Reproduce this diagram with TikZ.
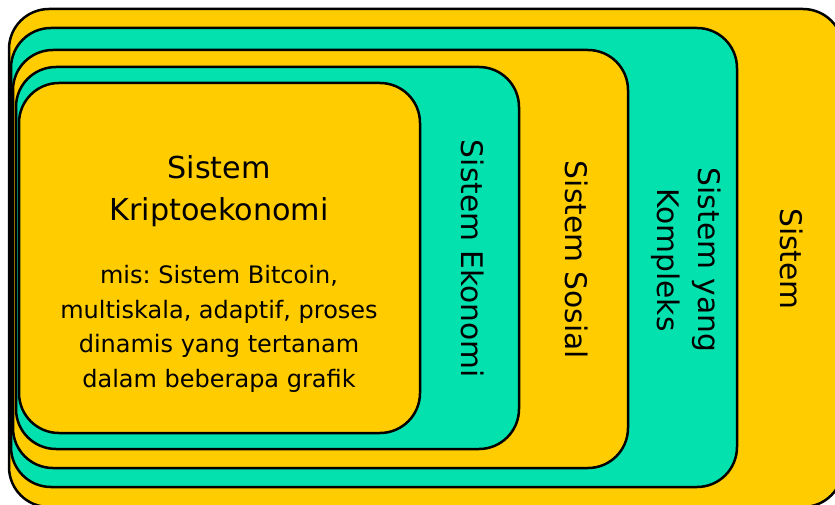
\documentclass[tikz,border=0pt]{standalone}
\usepackage{fontspec}
\setmainfont{DejaVu Sans}
\definecolor{sysyellow}{HTML}{FFCC00}
\definecolor{sysgreen}{HTML}{03E1AF}
\frenchspacing
\begin{document}
\begin{tikzpicture}
[x=1pt,y=-1pt,
  boxdecorate/.style={shape=rectangle,rounded corners=40pt,inner sep=0pt,draw,line width=2.5pt},%
  titledecorate/.style={align=center,font=\fontsize{30.2}{43}\selectfont},%
  bodydecorate/.style={align=center,font=\fontsize{24}{34.5}\selectfont},%
  sidedecorate/.style={align=center,rotate=-90,font=\fontsize{29.7}{41}\selectfont}]
%% page, cut at its edge
\useasboundingbox (0,0) rectangle (835,505);
\clip (0,0) rectangle (835,505);
%% nested systems, outermost first
\foreach \boxname/\x/\y/\w/\h/\col in {sistem/426/258/834/498/sysyellow,
  kompleks/374/257.5/726/459/sysgreen, sosial/320.5/259/615/418/sysyellow,
  ekonomi/267.5/258/503/382/sysgreen, kripto/219.5/258/401/350/sysyellow} {
  \node (\boxname) at (\x,\y) [boxdecorate,fill=\col,minimum width=\w pt,minimum height=\h pt] {};
}
%% labels (base is the last line)
\node (kriptotitle) at (219,221) [titledecorate,anchor=base] {Sistem\\Kriptoekonomi};
\node (kriptobody) at (219,387) [bodydecorate,anchor=base] {mis: Sistem Bitcoin,\\multiskala, adaptif, proses\\dinamis yang tertanam\\dalam beberapa grafik};
\node (ekonomilabel) at (473,259) [sidedecorate] {Sistem Ekonomi};
\node (sosiallabel) at (577,260) [sidedecorate] {Sistem Sosial};
\node (komplekslabel) at (686,260) [sidedecorate] {Sistem yang\\Kompleks};
\node (sistemlabel) at (792,259) [sidedecorate] {Sistem};
\end{tikzpicture}
\end{document}
